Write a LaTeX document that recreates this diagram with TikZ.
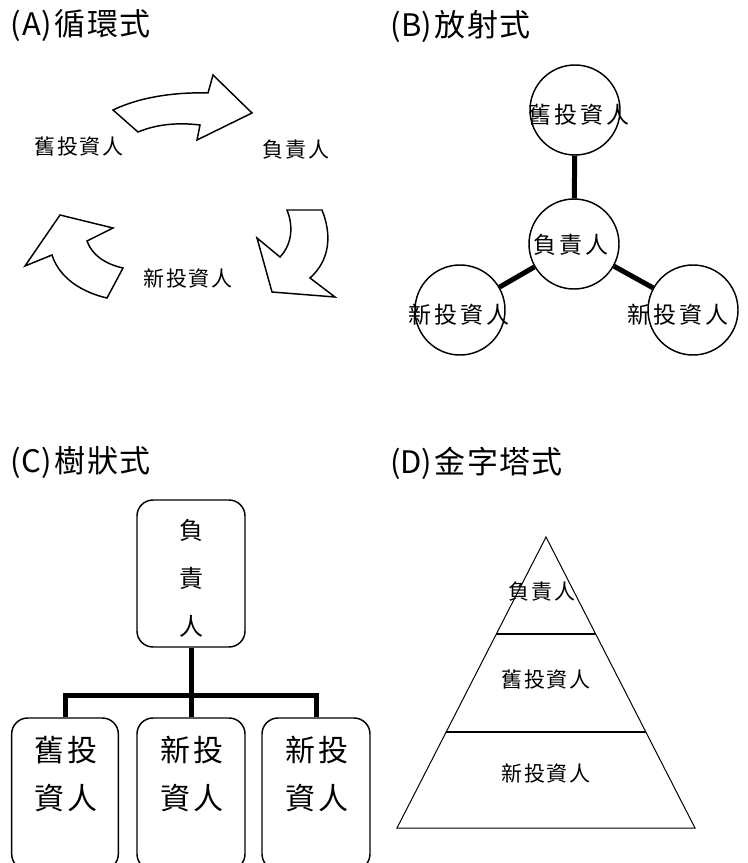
\documentclass[tikz,border=0pt]{standalone}
\usepackage{fontspec}
\usetikzlibrary{calc}
\setmainfont{Noto Sans CJK TC}
\newfontfamily\cjkA[LetterSpace=8]{Noto Sans CJK TC}
\newfontfamily\cjkB[LetterSpace=13]{Noto Sans CJK TC}
\newfontfamily\cjkT[LetterSpace=4]{Noto Sans CJK TC}
\newfontfamily\cjkC[LetterSpace=7]{Noto Sans CJK TC}
\newcommand\halfw[1]{\makebox[0.5em][c]{#1}}
\begin{document}
\begin{tikzpicture}[x=0.75pt,y=-0.75pt,
  lblA/.style={inner sep=0, font={\cjkA\fontsize{15.75pt}{18pt}\selectfont}},
  lblB/.style={inner sep=0, font={\cjkB\fontsize{17.25pt}{20pt}\selectfont}},
  ttl/.style={inner sep=0, anchor=west, font={\cjkT\fontsize{23.25pt}{27pt}\selectfont}},
  blk/.style={draw, line width=1.1pt, line join=miter, fill=white},
  circ/.style={draw, circle, line width=1.1pt, minimum size=67.5pt, inner sep=0},
  link/.style={line width=3.75pt, line join=miter},
  rbox/.style={draw, rounded corners=12pt, line width=1.1pt, inner sep=0},
  vtxt/.style={inner sep=0, align=center, font={\cjkA\fontsize{18pt}{36pt}\selectfont}},
  btxt/.style={inner sep=0, align=center, font={\cjkC\fontsize{22.5pt}{36pt}\selectfont}},
  thin/.style={line width=0.75pt, line join=miter},
  divl/.style={line width=1.5pt}
]
\useasboundingbox (0,0) rectangle (748,863);

% ---------- titles ----------
\node[ttl] (tA) at (8,26) {\halfw{(}\halfw{A}\halfw{)}循環式};
\node[ttl] (tB) at (388,26) {\halfw{(}\halfw{B}\halfw{)}放射式};
\node[ttl] (tC) at (8,463) {\halfw{(}\halfw{C}\halfw{)}樹狀式};
\node[ttl] (tD) at (388,463) {\halfw{(}\halfw{D}\halfw{)}金字塔式};

% ---------- (A) cycle ----------
\draw[blk] (113,110) .. controls (140,97) and (175,92) .. (208,93)
  -- (213,75) -- (252,113) -- (197,140) -- (200,125)
  .. controls (175,122) and (155,125) .. (138,132) -- cycle;
\draw[blk] (287,210) -- (322,210) .. controls (332,235) and (330,260) .. (310,278)
  -- (335,297) -- (272,292) -- (257,238) -- (280,257)
  .. controls (293,243) and (293,225) .. (287,210) -- cycle;
\draw[blk] (60,215) -- (113,228) -- (87,241)
  .. controls (92,255) and (105,264) .. (123,268) -- (107,298)
  .. controls (85,293) and (60,280) .. (52,255) -- (25,266) -- cycle;
\node[lblA] (aOld) at (79,147) {舊投資人};
\node[lblA] (aHead) at (296,150) {負責人};
\node[lblA] (aNew) at (188,278) {新投資人};

% ---------- (B) radial ----------
\node[circ] (bTop) at (575,110) {};
\node[circ] (bCtr) at (574,244) {};
\node[circ] (bL) at (460,310) {};
\node[circ] (bR) at (693,310) {};
\draw[link] (bTop) -- (bCtr);
\draw[link] (bCtr) -- (bL);
\draw[link] (bCtr) -- (bR);
\node[lblB] (bTopT) at (579,115) {舊投資人};
\node[lblB] (bCtrT) at (571,245) {負責人};
\node[lblB] (bLT) at (459,315) {新投資人};
\node[lblB] (bRT) at (678,315) {新投資人};

% ---------- (C) tree ----------
\node[rbox, minimum width=81pt, minimum height=110.25pt] (cTop) at (191,573.5) {};
\node[rbox, minimum width=80pt, minimum height=114pt] (c1) at (65,794) {};
\node[rbox, minimum width=81pt, minimum height=114pt] (c2) at (191,794) {};
\node[rbox, minimum width=81pt, minimum height=114pt] (c3) at (316,794) {};
\coordinate (cj) at (191,695);
\draw[link] (cTop.south) -- (c2.north);
\draw[link] (c1.north) -- (c1.north |- cj) -- (c3.north |- cj) -- (c3.north);
\node[vtxt] (cTopT) at (191,578) {負\\責\\人};
\node[btxt] (c1T) at (66,774) {舊投\\資人};
\node[btxt] (c2T) at (192,774) {新投\\資人};
\node[btxt] (c3T) at (317,774) {新投\\資人};

% ---------- (D) pyramid ----------
\coordinate (apex) at (546,537);
\coordinate (bl) at (397,828);
\coordinate (br) at (695,828);
\draw[thin] (apex) -- (bl) -- (br) -- cycle;
\draw[divl] ($(apex)!0.333!(bl)$) -- ($(apex)!0.333!(br)$);
\draw[divl] ($(apex)!0.67!(bl)$) -- ($(apex)!0.67!(br)$);
\node[lblA] (dHead) at (542,592) {負責人};
\node[lblA] (dOld) at (546,680) {舊投資人};
\node[lblA] (dNew) at (546,773) {新投資人};
\end{tikzpicture}
\end{document}
